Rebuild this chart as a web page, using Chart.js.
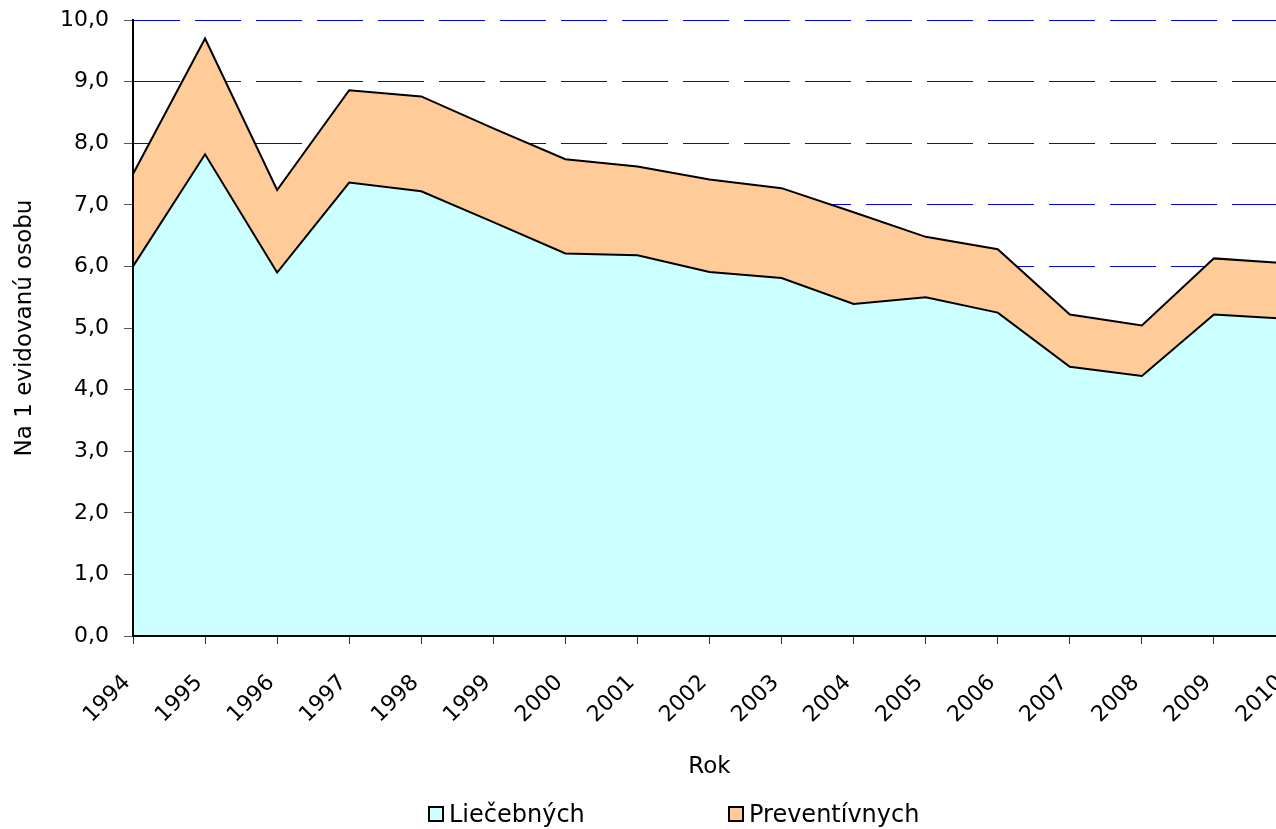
<!DOCTYPE html>
<html>
<head>
<meta charset="utf-8">
<script src="https://cdn.jsdelivr.net/npm/chart.js@4"></script>
<style>
  html, body { margin: 0; padding: 0; background: #fff; overflow: hidden; }
  #wrap { position: relative; width: 1308px; height: 829px; }
  .legend { position: absolute; top: 800px; left: 0; font-family: "DejaVu Sans", sans-serif; font-size: 24px; color: #000; }
  .legend span.item { position: absolute; white-space: nowrap; display: flex; align-items: center; }
  .legend i { display: inline-block; width: 12px; height: 12px; border: 2px solid #000; margin-right: 5px; }
</style>
</head>
<body>
<div id="wrap">
  <canvas id="chart"></canvas>
  <div class="legend" id="legend"></div>
</div>
<script>
// Data
const years = ['1994', '1995', '1996', '1997', '1998', '1999', '2000', '2001', '2002',
               '2003', '2004', '2005', '2006', '2007', '2008', '2009', '2010'];
const liecebnych = [6.00, 7.82, 5.90, 7.36, 7.22, 6.72, 6.21, 6.18, 5.91,
                    5.81, 5.39, 5.50, 5.25, 4.37, 4.22, 5.22, 5.15];
const preventivnych = [1.50, 1.88, 1.34, 1.50, 1.54, 1.52, 1.53, 1.44, 1.50,
                       1.46, 1.49, 0.98, 1.03, 0.85, 0.82, 0.91, 0.90];
const yTickLabels = ['0,0', '1,0', '2,0', '3,0', '4,0', '5,0', '6,0', '7,0', '8,0', '9,0', '10,0'];
const seriesNames = ['Liečebných', 'Preventívnych'];
const seriesColors = ['#ccffff', '#ffcc99'];

const FONT = '"DejaVu Sans", sans-serif';

const ctx = document.getElementById('chart').getContext('2d');
const chart = new Chart(ctx, {
    type: 'line',
    data: {
        labels: years,
        datasets: [
            {
                label: seriesNames[0],
                data: liecebnych,
                backgroundColor: seriesColors[0],
                borderColor: '#000',
                borderWidth: 2,
                fill: 'origin',
                pointRadius: 0,
                tension: 0
            },
            {
                label: seriesNames[1],
                data: preventivnych,
                backgroundColor: seriesColors[1],
                borderColor: '#000',
                borderWidth: 2,
                fill: '-1',
                pointRadius: 0,
                tension: 0
            }
        ]
    },
    options: {
        responsive: true,
        maintainAspectRatio: false,
        animation: false,
        // the plot runs a little past the right edge of the window, as in the original
        layout: { padding: { top: 20, right: 22, bottom: 0, left: 0 } },
        plugins: {
            legend: { display: false },
            tooltip: { enabled: false }
        },
        scales: {
            x: {
                offset: false,
                grid: {
                    display: true,
                    drawOnChartArea: false,
                    drawTicks: true,
                    tickLength: 8,
                    tickColor: '#333',
                    tickWidth: 1
                },
                border: { display: true, color: '#000', width: 2, z: 1 },
                ticks: {
                    autoSkip: false,
                    maxRotation: 45,
                    minRotation: 45,
                    padding: 26,
                    labelOffset: -6,
                    color: '#000',
                    font: { family: FONT, size: 22 }
                },
                title: {
                    display: true,
                    text: 'Rok',
                    color: '#000',
                    font: { family: FONT, size: 23 },
                    padding: { top: 0, bottom: 48 }
                },
                afterFit: (scale) => {
                    scale.height = 193;
                    scale.paddingLeft = 0;
                    scale.paddingRight = 0;
                }
            },
            y: {
                stacked: true,
                min: 0,
                max: 10,
                grid: {
                    color: '#0000ff',
                    lineWidth: 1,
                    drawTicks: true,
                    tickLength: 9,
                    tickColor: '#555',
                    tickWidth: 1,
                    tickBorderDash: []
                },
                border: { display: true, color: '#000', width: 2, dash: [46, 15], z: 1 },
                ticks: {
                    stepSize: 1,
                    padding: 15,
                    color: '#000',
                    font: { family: FONT, size: 22 },
                    callback: (value, index) => yTickLabels[index]
                },
                title: {
                    display: true,
                    text: 'Na 1 evidovanú osobu',
                    color: '#000',
                    font: { family: FONT, size: 23 },
                    padding: { top: 11, bottom: 0 }
                },
                afterFit: (scale) => {
                    scale.width = 133;
                    // the label padding should not push the plot top down
                    scale.paddingTop = 0;
                    scale.paddingBottom = 0;
                }
            }
        }
    }
});

// Legend under the chart, spaced like the reference
const legend = document.getElementById('legend');
const legendLeft = [428, 728];
seriesNames.forEach((name, i) => {
    const item = document.createElement('span');
    item.className = 'item';
    item.style.left = legendLeft[i] + 'px';
    item.innerHTML = '<i style="background:' + seriesColors[i] + '"></i>' + name;
    legend.appendChild(item);
});
</script>
</body>
</html>
